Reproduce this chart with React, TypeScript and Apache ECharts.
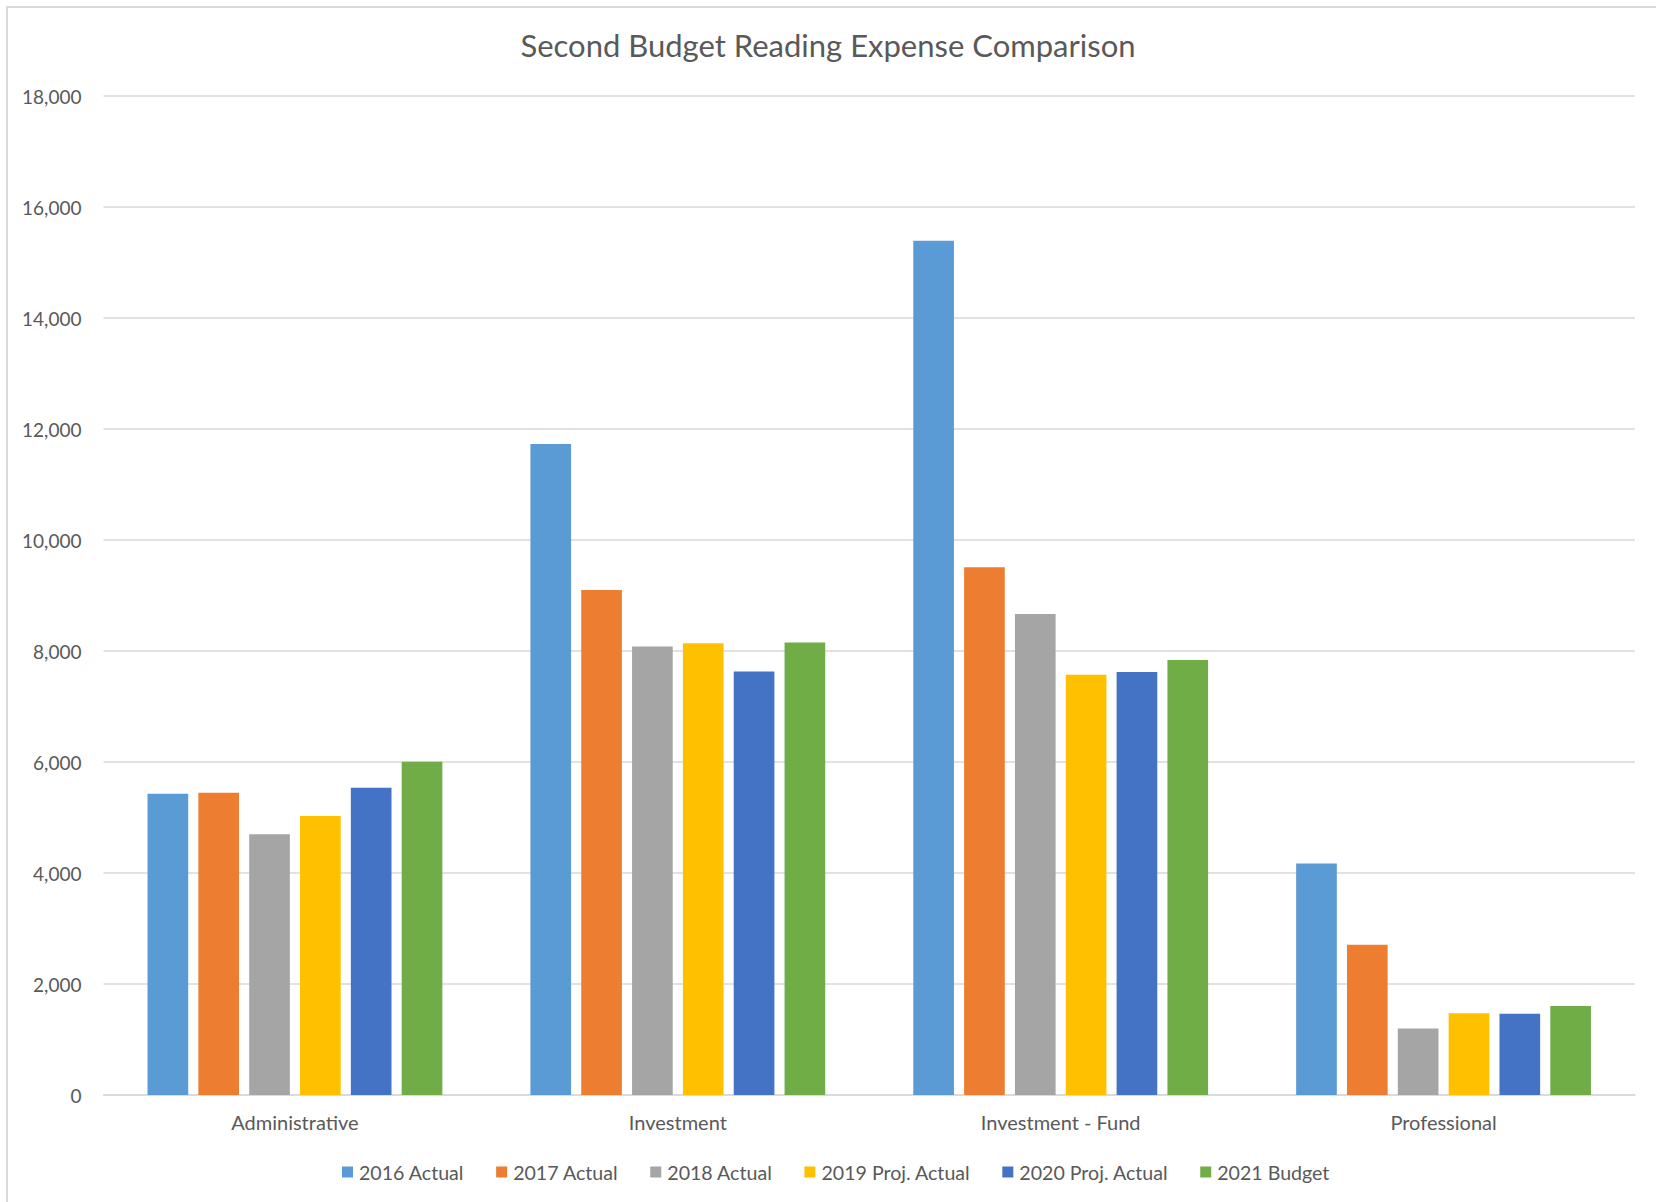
import React, { useEffect, useRef } from "react";
import * as echarts from "echarts";

const categories = ["Administrative", "Investment", "Investment - Fund", "Professional"];
const seriesNames = ["2016 Actual", "2017 Actual", "2018 Actual", "2019 Proj. Actual", "2020 Proj. Actual", "2021 Budget"];
const actual2016 = [5430, 11730, 15390, 4170];
const actual2017 = [5445, 9100, 9510, 2705];
const actual2018 = [4700, 8080, 8665, 1200];
const proj2019 = [5025, 8140, 7570, 1475];
const proj2020 = [5535, 7630, 7620, 1465];
const budget2021 = [6005, 8155, 7840, 1605];
const colors = ["#5B9BD5", "#ED7D31", "#A5A5A5", "#FFC000", "#4472C4", "#70AD47"];

const FONT = "Lato";
const TEXT = "#595959";

export default function App() {
  const ref = useRef<HTMLDivElement>(null);
  useEffect(() => {
    if (!ref.current) return;
    const chart = echarts.init(ref.current, undefined, { renderer: "svg" });
    const data = [actual2016, actual2017, actual2018, proj2019, proj2020, budget2021];
    chart.setOption({
      animation: false,
      backgroundColor: "#ffffff",
      textStyle: { fontFamily: FONT },
      title: {
        text: "Second Budget Reading Expense Comparison",
        left: "center",
        top: 24,
        textStyle: { fontFamily: FONT, fontSize: 31, fontWeight: "normal", color: TEXT },
      },
      graphic: [
        {
          type: "rect",
          shape: { x: 7, y: 7, width: 1700, height: 1300 },
          style: { fill: "none", stroke: "#d9d9d9", lineWidth: 2 },
          silent: true,
        },
      ],
      legend: {
        bottom: 15,
        left: 337,
        itemWidth: 11,
        itemHeight: 11,
        itemGap: 32,
        icon: "rect",
        textStyle: { fontFamily: FONT, fontSize: 19.6, color: TEXT, padding: [0, 0, 0, 1] },
        data: seriesNames,
      },
      grid: { left: 103.5, right: 21, top: 96, bottom: 107, containLabel: false },
      xAxis: {
        type: "category",
        data: categories,
        axisLine: { lineStyle: { color: "#d9d9d9", width: 1.5 } },
        axisTick: { show: false },
        axisLabel: { fontFamily: FONT, fontSize: 20, color: TEXT, margin: 17 },
      },
      yAxis: {
        type: "value",
        min: 0,
        max: 18000,
        interval: 2000,
        axisLine: { show: false },
        axisTick: { show: false },
        splitLine: { lineStyle: { color: "#d9d9d9", width: 1.5 } },
        axisLabel: {
          fontFamily: FONT,
          fontSize: 19,
          color: TEXT,
          margin: 22,
          formatter: (v: number) => v.toLocaleString("en-US"),
        },
      },
      series: seriesNames.map((name, i) => ({
        name,
        type: "bar",
        data: data[i],
        itemStyle: { color: colors[i] },
        barGap: "25%",
        barCategoryGap: "23%",
      })),
    });
    return () => chart.dispose();
  }, []);
  return (
    <div
      ref={ref}
      style={{ position: "fixed", left: 0, top: 0, width: 1656, height: 1202 }}
    />
  );
}
